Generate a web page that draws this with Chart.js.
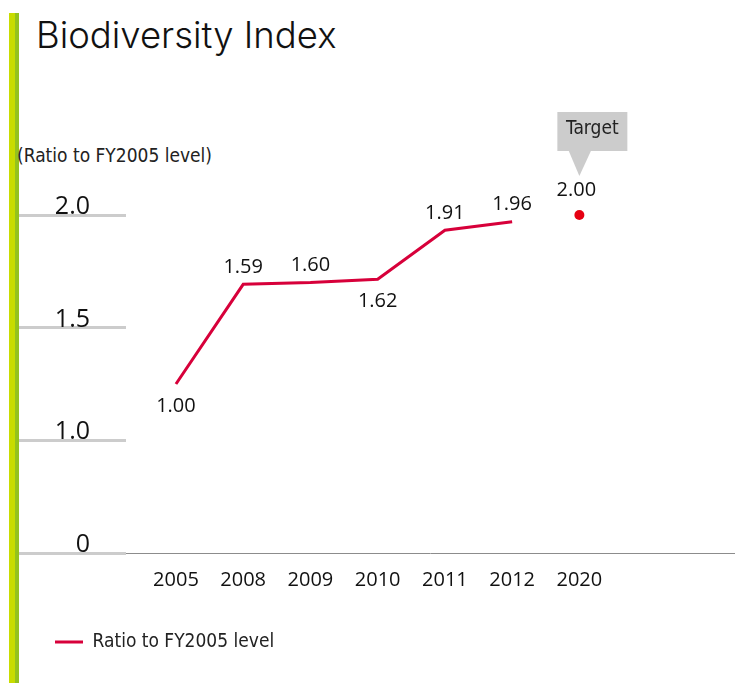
<!DOCTYPE html>
<html lang="en">
<head>
<meta charset="UTF-8">
<title>Biodiversity Index</title>
<script src="https://cdn.jsdelivr.net/npm/chart.js"></script>
<style>
  body { margin: 0; background: #fff; width: 739px; height: 683px; overflow: hidden; position: relative; }
  .bar { position: absolute; left: 9px; top: 13px; bottom: 0; width: 10px; background: linear-gradient(to right, #c8dc00 0, #c8dc00 6px, #94c21e 6px); }
  h1 { position: absolute; left: 36px; top: 14px; margin: 0; font: 300 36.5px/42px Inter, 'Open Sans', sans-serif; color: #111; white-space: nowrap; }
  .unit { position: absolute; left: 17px; top: 143px; font: 19px/24px 'DejaVu Sans Condensed', 'DejaVu Sans', sans-serif; color: #222; white-space: nowrap; }
  .chart { position: absolute; left: 18px; top: 0; width: 721px; height: 683px; }
</style>
</head>
<body>
<div class="bar"></div>
<h1>Biodiversity Index</h1>
<div class="unit">(Ratio to FY2005 level)</div>
<div class="chart"><canvas id="c"></canvas></div>
<script>
  // data
  const years = ['2005', '2008', '2009', '2010', '2011', '2012', '2020'];
  const ratio = [1.00, 1.59, 1.60, 1.62, 1.91, 1.96];          // 2005 - 2012
  const ratioLabelSide = ['below', 'above', 'above', 'below', 'above', 'above'];
  const targetYear = '2020';
  const targetValue = 2.00;
  const yTickLabels = ['0', '1.0', '1.5', '2.0'];

  const numFont = "'Open Sans', 'Noto Sans', sans-serif";
  const narrowFont = "'DejaVu Sans Condensed', 'DejaVu Sans', sans-serif";

  const labelsPlugin = {
    id: 'valueLabels',
    afterDatasetsDraw(chart) {
      const ctx = chart.ctx;
      ctx.save();
      ctx.font = '20px ' + numFont;
      ctx.fillStyle = '#111';
      ctx.textAlign = 'center';
      ctx.textBaseline = 'middle';
      chart.getDatasetMeta(0).data.forEach((pt, i) => {
        const dy = ratioLabelSide[i] === 'below' ? 22 : -17;
        ctx.fillText(ratio[i].toFixed(2), pt.x, pt.y + dy);
      });
      // target point, label and callout
      const t = chart.getDatasetMeta(1).data[0];
      ctx.fillText(targetValue.toFixed(2), t.x - 3, t.y - 25);
      ctx.fillStyle = '#cccccc';
      ctx.fillRect(t.x - 22, t.y - 103, 70, 39);
      ctx.beginPath();
      ctx.moveTo(t.x - 11, t.y - 65);
      ctx.lineTo(t.x + 12, t.y - 65);
      ctx.lineTo(t.x, t.y - 39);
      ctx.closePath();
      ctx.fill();
      ctx.fillStyle = '#222';
      ctx.font = '19px ' + narrowFont;
      ctx.fillText('Target', t.x + 13, t.y - 86);
      ctx.restore();
    }
  };

  new Chart(document.getElementById('c'), {
    type: 'line',
    data: {
      datasets: [{
        label: 'Ratio to FY2005 level',
        data: ratio.map((v, i) => ({ x: i, y: v })),
        borderColor: '#d7003a',
        backgroundColor: '#d7003a',
        borderWidth: 3,
        pointRadius: 0,
        tension: 0,
        clip: false
      }, {
        label: 'Target',
        data: [{ x: years.indexOf(targetYear), y: targetValue }],
        showLine: false,
        pointRadius: 5,
        pointBackgroundColor: '#e60012',
        pointBorderWidth: 0,
        clip: false
      }]
    },
    options: {
      responsive: true,
      maintainAspectRatio: false,
      animation: false,
      layout: { padding: { top: 215, right: 0, bottom: 21.5, left: 0 } },
      scales: {
        x: {
          type: 'linear',
          min: -0.743,
          max: 8.30,
          afterBuildTicks: s => { s.ticks = years.map((_, i) => ({ value: i })); },
          afterFit: s => { s.height = 42.5; },
          grid: { display: true, drawOnChartArea: false, drawTicks: false },
          border: { display: true, color: '#8c8c8c', width: 1 },
          ticks: {
            callback: v => years[v],
            font: { family: numFont, size: 20 },
            color: '#111',
            padding: 15,
            maxRotation: 0,
            autoSkip: false
          }
        },
        y: {
          min: 0,
          max: 2,
          afterBuildTicks: s => { s.ticks = yTickLabels.map((_, i) => ({ value: i * 2 / (yTickLabels.length - 1) })); },
          afterFit: s => { s.width = 108; },
          grid: { drawOnChartArea: false, drawTicks: true, tickLength: 107, tickWidth: 3, tickColor: '#cccccc' },
          border: { display: false },
          ticks: {
            callback: (v, i) => yTickLabels[i],
            font: { family: numFont, size: 25 },
            color: '#111',
            crossAlign: 'near',
            padding: -71,
            labelOffset: -8
          }
        }
      },
      plugins: {
        legend: {
          position: 'bottom',
          align: 'start',
          labels: {
            filter: item => item.datasetIndex === 0,
            usePointStyle: true,
            pointStyle: 'line',
            pointStyleWidth: 28,
            padding: 37,
            color: '#222',
            font: { family: narrowFont, size: 19 }
          }
        },
        tooltip: { enabled: false }
      }
    },
    plugins: [labelsPlugin]
  });
</script>
</body>
</html>
